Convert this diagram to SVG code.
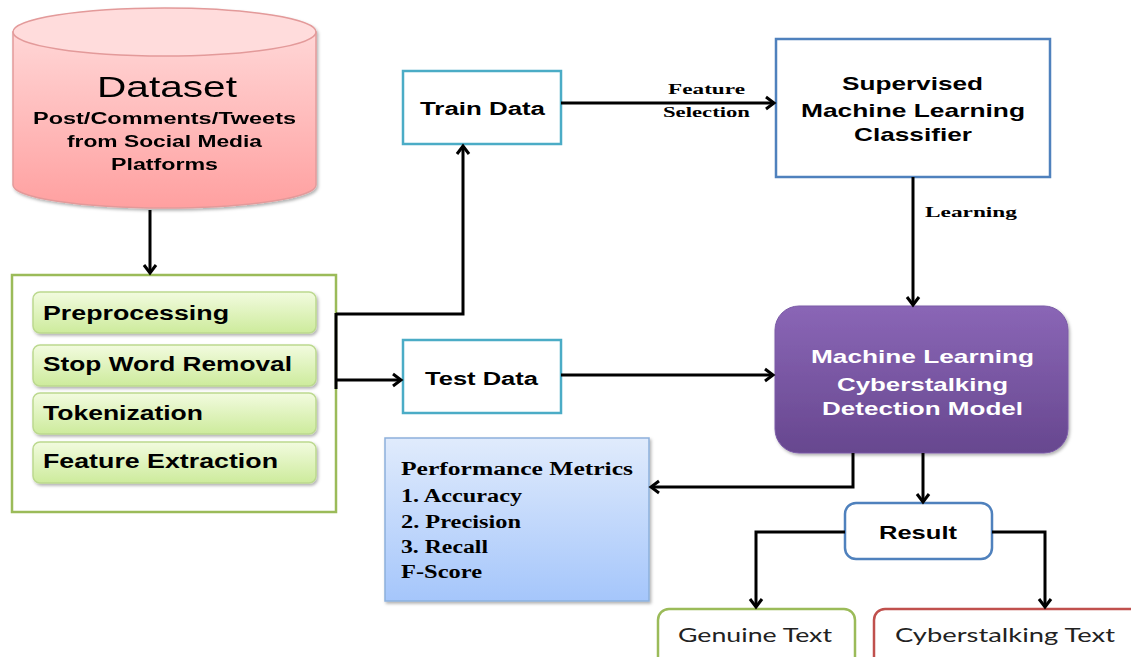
<svg xmlns="http://www.w3.org/2000/svg" width="1131" height="657" viewBox="0 0 1131 657">
<style>
.sans{font-family:"Liberation Sans",Arial,sans-serif;font-weight:bold;fill:#000}
.serif{font-family:"Liberation Serif","Times New Roman",serif;font-weight:bold;fill:#000}
.cal{font-family:Lato,"Open Sans",sans-serif;font-weight:normal;fill:#222}
.conn{fill:none;stroke:#000;stroke-width:3}
.step{fill:url(#gGreen);stroke:#bcd98f;stroke-width:1.5}
</style>
<defs>
<linearGradient id="gCyl" x1="0" y1="0" x2="0" y2="1">
<stop offset="0" stop-color="#ffd6d6"/><stop offset="1" stop-color="#ffa0a0"/>
</linearGradient>
<linearGradient id="gGreen" x1="0" y1="0" x2="0" y2="1">
<stop offset="0" stop-color="#f2fbdf"/><stop offset="1" stop-color="#cdeb9c"/>
</linearGradient>
<linearGradient id="gPurple" x1="0" y1="0" x2="0" y2="1">
<stop offset="0" stop-color="#8a66b6"/><stop offset="1" stop-color="#67478f"/>
</linearGradient>
<linearGradient id="gBlue" x1="0" y1="0" x2="0" y2="1">
<stop offset="0" stop-color="#e0ebfc"/><stop offset="1" stop-color="#a5c6fb"/>
</linearGradient>
<filter id="sh" x="-10%" y="-10%" width="130%" height="130%">
<feDropShadow dx="1.5" dy="2" stdDeviation="1.5" flood-color="#000" flood-opacity="0.3"/>
</filter>
<marker id="arr" markerWidth="16" markerHeight="16" refX="13" refY="8" orient="auto" markerUnits="userSpaceOnUse">
<path d="M5,2 L13,8 L5,14" fill="none" stroke="#000" stroke-width="3"/>
</marker>
</defs>

<g id="dataset" filter="url(#sh)">
<path d="M13,32 L13,185 A151.5,23 0 0 0 316,185 L316,32 Z" fill="url(#gCyl)" stroke="#e39a9a" stroke-width="1.5"/>
<ellipse cx="164.5" cy="32" rx="151.5" ry="24" fill="#ffdcdc" stroke="#e39a9a" stroke-width="1.5"/>
<text class="sans" x="167" y="97" font-size="29" font-weight="normal" text-anchor="middle" textLength="140" lengthAdjust="spacingAndGlyphs" style="font-weight:normal">Dataset</text>
<text class="sans" x="164.5" y="124" font-size="16" text-anchor="middle" textLength="263" lengthAdjust="spacingAndGlyphs">Post/Comments/Tweets</text>
<text class="sans" x="164.5" y="147" font-size="16" text-anchor="middle" textLength="195" lengthAdjust="spacingAndGlyphs">from Social Media</text>
<text class="sans" x="164.5" y="170" font-size="16" text-anchor="middle" textLength="107" lengthAdjust="spacingAndGlyphs">Platforms</text>
</g>

<g id="preprocessing-block">
<rect x="12" y="275" width="324" height="237" fill="#fff" stroke="#9bbb59" stroke-width="2.5"/>
<rect class="step" x="33" y="292" width="283" height="41" rx="7" filter="url(#sh)"/>
<rect class="step" x="33" y="345" width="283" height="41" rx="7" filter="url(#sh)"/>
<rect class="step" x="33" y="393" width="283" height="41" rx="7" filter="url(#sh)"/>
<rect class="step" x="33" y="442" width="283" height="41" rx="7" filter="url(#sh)"/>
<text class="sans" x="43" y="320" font-size="20" textLength="186" lengthAdjust="spacingAndGlyphs">Preprocessing</text>
<text class="sans" x="43" y="371" font-size="20" textLength="249" lengthAdjust="spacingAndGlyphs">Stop Word Removal</text>
<text class="sans" x="43" y="420" font-size="20" textLength="160" lengthAdjust="spacingAndGlyphs">Tokenization</text>
<text class="sans" x="43" y="468" font-size="20" textLength="235" lengthAdjust="spacingAndGlyphs">Feature Extraction</text>
</g>

<g id="train-data">
<rect x="403" y="71" width="158" height="73" fill="#fff" stroke="#4bacc6" stroke-width="2.5"/>
<text class="sans" x="482.5" y="115" font-size="18" text-anchor="middle" textLength="125" lengthAdjust="spacingAndGlyphs">Train Data</text>
</g>

<g id="test-data">
<rect x="403" y="340" width="158" height="73" fill="#fff" stroke="#4bacc6" stroke-width="2.5"/>
<text class="sans" x="481.5" y="385" font-size="18" text-anchor="middle" textLength="113" lengthAdjust="spacingAndGlyphs">Test Data</text>
</g>

<g id="classifier">
<rect x="776" y="39" width="274" height="138" fill="#fff" stroke="#4f81bd" stroke-width="2.5"/>
<text class="sans" x="912.5" y="90" font-size="19" text-anchor="middle" textLength="141" lengthAdjust="spacingAndGlyphs">Supervised</text>
<text class="sans" x="913" y="117" font-size="19" text-anchor="middle" textLength="224" lengthAdjust="spacingAndGlyphs">Machine Learning</text>
<text class="sans" x="913" y="141" font-size="19" text-anchor="middle" textLength="118" lengthAdjust="spacingAndGlyphs">Classifier</text>
</g>

<g id="model">
<rect x="775" y="306" width="293" height="147" rx="24" fill="url(#gPurple)" stroke="#7a5aa6" stroke-width="1" filter="url(#sh)"/>
<text class="sans" x="922.5" y="363" font-size="19" text-anchor="middle" textLength="223" lengthAdjust="spacingAndGlyphs" style="fill:#fff">Machine Learning</text>
<text class="sans" x="922.5" y="391" font-size="19" text-anchor="middle" textLength="171" lengthAdjust="spacingAndGlyphs" style="fill:#fff">Cyberstalking</text>
<text class="sans" x="922.5" y="415" font-size="19" text-anchor="middle" textLength="201" lengthAdjust="spacingAndGlyphs" style="fill:#fff">Detection Model</text>
</g>

<g id="metrics">
<rect x="385" y="438" width="264" height="163" fill="url(#gBlue)" stroke="#8db0dc" stroke-width="1.5" filter="url(#sh)"/>
<text class="serif" x="401" y="475" font-size="18" textLength="232" lengthAdjust="spacingAndGlyphs">Performance Metrics</text>
<text class="serif" x="401" y="502" font-size="18" textLength="121" lengthAdjust="spacingAndGlyphs">1. Accuracy</text>
<text class="serif" x="401" y="528" font-size="18" textLength="120" lengthAdjust="spacingAndGlyphs">2. Precision</text>
<text class="serif" x="401" y="553" font-size="18" textLength="87" lengthAdjust="spacingAndGlyphs">3. Recall</text>
<text class="serif" x="401" y="578" font-size="18" textLength="81" lengthAdjust="spacingAndGlyphs">F-Score</text>
</g>

<g id="result">
<rect x="845" y="503" width="147" height="56" rx="11" fill="#fff" stroke="#4f81bd" stroke-width="2.5"/>
<text class="sans" x="918" y="539" font-size="18" text-anchor="middle" textLength="78" lengthAdjust="spacingAndGlyphs">Result</text>
</g>

<g id="genuine">
<rect x="658" y="609" width="197" height="60" rx="11" fill="#fff" stroke="#9bbb59" stroke-width="2.5"/>
<text class="cal" x="755" y="642" font-size="20" text-anchor="middle" textLength="154" lengthAdjust="spacingAndGlyphs">Genuine Text</text>
</g>

<g id="cyberstalking">
<rect x="874" y="609" width="270" height="60" rx="11" fill="#fff" stroke="#c0504d" stroke-width="2.5"/>
<text class="cal" x="1005" y="642" font-size="20" text-anchor="middle" textLength="220" lengthAdjust="spacingAndGlyphs">Cyberstalking Text</text>
</g>

<g id="connectors">
<line class="conn" x1="150" y1="210" x2="150" y2="273" marker-end="url(#arr)"/>
<line class="conn" x1="336" y1="313" x2="336" y2="389"/>
<polyline class="conn" points="336,314 463,314 463,146" marker-end="url(#arr)"/>
<line class="conn" x1="336" y1="380" x2="401" y2="380" marker-end="url(#arr)"/>
<line class="conn" x1="561" y1="103" x2="774" y2="103" marker-end="url(#arr)"/>
<line class="conn" x1="561" y1="375" x2="773" y2="375" marker-end="url(#arr)"/>
<line class="conn" x1="913" y1="177" x2="913" y2="305" marker-end="url(#arr)"/>
<polyline class="conn" points="853,453 853,487 651,487" marker-end="url(#arr)"/>
<line class="conn" x1="923" y1="453" x2="923" y2="502" marker-end="url(#arr)"/>
<polyline class="conn" points="845,532 756,532 756,607" marker-end="url(#arr)"/>
<polyline class="conn" points="992,532 1045,532 1045,607" marker-end="url(#arr)"/>
<text class="serif" x="706.5" y="94" font-size="15" text-anchor="middle" textLength="77" lengthAdjust="spacingAndGlyphs">Feature</text>
<text class="serif" x="706.5" y="117" font-size="15" text-anchor="middle" textLength="87" lengthAdjust="spacingAndGlyphs">Selection</text>
<text class="serif" x="925" y="217" font-size="15" textLength="92" lengthAdjust="spacingAndGlyphs">Learning</text>
</g>
</svg>
